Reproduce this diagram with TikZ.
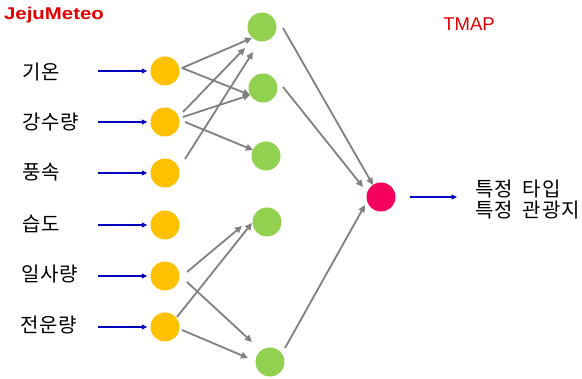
\documentclass[tikz,border=0pt]{standalone}
\usepackage{fontspec}
\setmainfont{Noto Sans CJK KR}
\newfontfamily\latinfont{Liberation Sans}
\newfontfamily\titlefont[FakeStretch=1.2]{Liberation Sans Bold}
\usetikzlibrary{arrows.meta,calc}
\definecolor{nodeorange}{RGB}{255,192,0}
\definecolor{nodegreen}{RGB}{146,208,80}
\definecolor{nodered}{RGB}{245,0,95}
\definecolor{arrblue}{RGB}{0,0,190}
\definecolor{arrgray}{RGB}{128,128,128}
\definecolor{txtred}{RGB}{225,0,0}
\tikzset{
  neuron/.style={circle,minimum size=29pt,inner sep=0pt,draw=none},
  inpnode/.style={neuron,fill=nodeorange},
  hidnode/.style={neuron,fill=nodegreen},
  outnode/.style={neuron,fill=nodered},
  lbl/.style={anchor=west,inner sep=0pt,font=\fontsize{20}{21}\selectfont\addfontfeature{LetterSpace=4}},
  garrow/.style={draw=arrgray,line width=1.8pt,-{Triangle[length=7pt,width=6.5pt]}},
  barrow/.style={draw=arrblue,line width=1.8pt,-{Triangle[length=5.5pt,width=5pt]}},
}
\begin{document}
\begin{tikzpicture}[x=1pt,y=-1pt]
\useasboundingbox (0,0) rectangle (582,379);
% titles
\node[text=txtred,font=\titlefont\fontsize{17}{20}\selectfont,inner sep=0pt] (jm) at (54,15) {JejuMeteo};
\node[text=txtred,font=\latinfont\fontsize{18.5}{20}\selectfont,inner sep=0pt] (tm) at (469,24) {TMAP};
% input nodes
\node[inpnode] (o1) at (165,71) {};
\node[inpnode] (o2) at (165,122) {};
\node[inpnode] (o3) at (165,173) {};
\node[inpnode] (o4) at (165,225) {};
\node[inpnode] (o5) at (165,276) {};
\node[inpnode] (o6) at (165,327) {};
% hidden nodes
\node[hidnode] (g1) at (262,27) {};
\node[hidnode] (g2) at (263,88) {};
\node[hidnode] (g3) at (266,156) {};
\node[hidnode] (g4) at (267,222) {};
\node[hidnode] (g5) at (270,362) {};
% output node
\node[outnode] (r) at (381,197) {};
% labels
\node[lbl] (l1) at (22,72) {기온};
\node[lbl] (l2) at (22,122) {강수량};
\node[lbl] (l3) at (22,172) {풍속};
\node[lbl] (l4) at (22,224) {습도};
\node[lbl] (l5) at (21,274) {일사량};
\node[lbl] (l6) at (20,325) {전운량};
\node[lbl,align=left] (res) at (475,200) {특정\hspace{10pt}타입\\특정\hspace{10pt}관광지};
% blue input arrows
\foreach \i in {1,...,6}{
  \draw[barrow,shorten >=3pt] ($(o\i)+(-67,0)$) -- (o\i.west);
}
\coordinate (rout) at ($(r)+(76,0)$);
\draw[barrow] ($(r)+(29,0)$) -- (rout);
% gray connections
\draw[garrow] ($(o1)+(17,-3)$) -- ($(g1)+(-10,11)$);
\draw[garrow] ($(o1)+(17,-3)$) -- ($(g2)+(-13,7)$);
\draw[garrow] ($(o2)+(18,-10)$) -- ($(g1)+(-17,21)$);
\draw[garrow] ($(o2)+(18,-5)$) -- ($(g2)+(-13,7)$);
\draw[garrow] ($(o2)+(20,0)$) -- ($(g3)+(-13,-6)$);
\draw[garrow] ($(o3)+(20,-14)$) -- ($(g1)+(-9,25)$);
\draw[garrow] ($(o5)+(22,-4)$) -- ($(g4)+(-25,4)$);
\draw[garrow] ($(o6)+(12,-10)$) -- ($(g4)+(-15,1)$);
\draw[garrow] ($(o5)+(22,6)$) -- ($(g5)+(-18,-20)$);
\draw[garrow] ($(o6)+(17,3)$) -- ($(g5)+(-22,-4)$);
\draw[garrow] ($(g1)+(21,1)$) -- ($(r)+(-8,-12)$);
\draw[garrow] ($(g2)+(20,-1)$) -- ($(r)+(-18,-10)$);
\draw[garrow] ($(g5)+(15,-14)$) -- ($(r)+(-16,8)$);
\end{tikzpicture}
\end{document}
